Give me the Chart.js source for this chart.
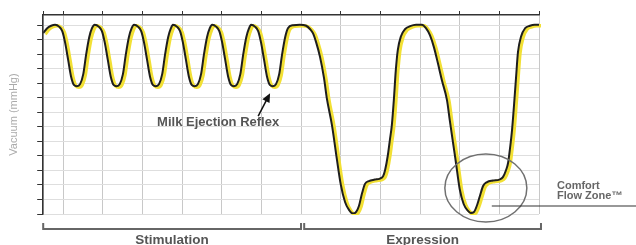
<!DOCTYPE html>
<html>
<head>
<meta charset="utf-8">
<script src="https://cdn.jsdelivr.net/npm/chart.js@4"></script>
<style>
  html, body { margin: 0; padding: 0; background: #fff; }
  canvas { display: block; }
</style>
</head>
<body>
<canvas id="myChart" width="636" height="245"></canvas>
<script>
// vacuum trace (x = time units, 10 per grid column; y = vacuum, 10 per grid row)
const timeValues = [
  -5.0, -4.0, -3.0,
  -2.0, -1.0, -0.2, 0.5, 1.3, 2.0, 2.8, 3.5, 4.3, 5.1, 5.8, 6.6, 7.3,
  8.0, 9.0, 9.8, 10.5, 11.3, 12.0, 12.8, 13.5, 14.3, 15.1, 15.8, 16.6, 17.3,
  17.9, 18.9, 19.7, 20.4, 21.2, 21.9, 22.7, 23.4, 24.2, 25.0, 25.7, 26.5, 27.2,
  27.7, 28.7, 29.5, 30.2, 31.0, 31.7, 32.5, 33.2, 34.0, 34.8, 35.5, 36.3, 37.0,
  37.6, 38.6, 39.4, 40.1, 40.9, 41.6, 42.4, 43.1, 43.9, 44.7, 45.4, 46.2, 46.9,
  47.4, 48.4, 49.2, 49.9, 50.7, 51.4, 52.2, 52.9, 53.7, 54.5, 55.2, 56.0, 56.7,
  58.0, 59.7, 61.3,
  62.3, 63.0, 63.8, 64.8, 65.8, 66.5, 67.8, 69.0, 70.0, 71.1, 72.1, 73.1, 73.9, 74.6,
  75.4, 76.1, 77.1, 78.6, 79.9, 80.7, 81.2, 81.9, 82.4, 82.9, 83.4, 83.9, 84.4, 85.2,
  86.2, 87.5, 89.0, 90.5, 91.5, 92.5, 93.5, 94.5, 95.5, 96.8, 97.5, 98.3, 99.0, 100.0,
  101.0, 102.1, 102.8, 103.6, 104.4, 105.1, 105.9, 106.9, 108.4, 110.0, 110.9, 111.7,
  112.2, 112.7, 113.2, 113.7, 114.2, 114.7, 115.5, 116.5, 117.7, 118.9, 120.0
];
const vacuumValues = [
  124.5, 127.9, 129.6,
  130.3, 129.0, 125.9, 118.3, 105.9, 94.9, 88.7, 88.0, 89.4, 96.3, 109.4, 121.7, 127.9,
  130.3, 129.0, 125.9, 118.3, 105.9, 94.9, 88.7, 88.0, 89.4, 96.3, 109.4, 121.7, 127.9,
  130.3, 129.0, 125.9, 118.3, 105.9, 94.9, 88.7, 88.0, 89.4, 96.3, 109.4, 121.7, 127.9,
  130.3, 129.0, 125.9, 118.3, 105.9, 94.9, 88.7, 88.0, 89.4, 96.3, 109.4, 121.7, 127.9,
  130.3, 129.0, 125.9, 118.3, 105.9, 94.9, 88.7, 88.0, 89.4, 96.3, 109.4, 121.7, 127.9,
  130.3, 129.0, 125.9, 118.3, 105.9, 94.9, 88.7, 88.0, 89.4, 96.3, 109.4, 121.7, 127.9,
  130.0, 130.3, 129.6,
  127.2, 124.5, 118.3, 108.0, 93.5, 79.8, 61.2, 38.5, 20.6, 8.3, 2.8, 0.3, 1.4, 5.5,
  14.4, 20.6, 22.7, 23.7, 24.4, 26.1, 30.3, 40.6, 50.9, 61.2, 78.4, 99.0, 112.8, 122.4,
  127.2, 129.3, 130.3, 130.3, 127.9, 123.1, 114.9, 103.9, 92.2, 78.4, 64.6, 49.5, 36.5, 17.2,
  6.9, 2.1, 0.7, 1.4, 6.2, 12.4, 19.3, 22.0, 23.0, 23.7, 25.4, 30.3,
  35.1, 45.4, 57.8, 74.9, 93.5, 111.4, 122.4, 127.9, 129.6, 130.3, 130.3
];
const xTicks = [-5, 0, 10, 20, 30, 40, 50, 60, 70, 80, 90, 100, 110, 120];
const yTicks = [0, 10, 20, 30, 40, 50, 60, 70, 80, 90, 100, 110, 120, 130];
const phaseLabels = ['Stimulation', 'Expression'];
const phaseStart = [-5, 60.8];
const phaseEnd = [60, 120.5];

const FONT = '"Liberation Sans", Arial, sans-serif';
const points = timeValues.map((t, i) => ({ x: t, y: vacuumValues[i] }));

// yellow trace sits a little right/below the black one
const yellowShift = {
  id: 'yellowShift',
  beforeDatasetDraw(chart, args) {
    if (args.index === 1) {
      chart.ctx.save();
      chart.ctx.translate(2, 1);
    }
  },
  afterDatasetDraw(chart, args) {
    if (args.index === 1) chart.ctx.restore();
  }
};

const annotations = {
  id: 'annotations',
  afterDraw(chart) {
    const { ctx, chartArea, scales: { x, y } } = chart;
    ctx.save();

    // comfort flow zone circle
    ctx.strokeStyle = '#707070';
    ctx.lineWidth = 1.5;
    ctx.beginPath();
    ctx.ellipse(x.getPixelForValue(106.6), y.getPixelForValue(17.9), 41, 34, 0, 0, Math.PI * 2);
    ctx.stroke();

    // leader line
    ctx.strokeStyle = '#333';
    ctx.lineWidth = 1.2;
    ctx.beginPath();
    ctx.moveTo(x.getPixelForValue(108.1), y.getPixelForValue(5.5));
    ctx.lineTo(chart.width, y.getPixelForValue(5.5));
    ctx.stroke();

    ctx.fillStyle = '#666';
    ctx.font = 'bold 11px ' + FONT;
    ctx.textAlign = 'left';
    ctx.textBaseline = 'alphabetic';
    ctx.fillText('Comfort', chartArea.right + 18, chartArea.bottom - 25);
    ctx.fillText('Flow Zone\u2122', chartArea.right + 18, chartArea.bottom - 15);

    // milk ejection reflex label + arrow
    ctx.fillStyle = '#555';
    ctx.font = 'bold 13px ' + FONT;
    ctx.textAlign = 'center';
    ctx.fillText('Milk Ejection Reflex', x.getPixelForValue(39.1), y.getPixelForValue(60.5));

    const x0 = x.getPixelForValue(49.2), y0 = y.getPixelForValue(67.4);
    const x1 = x.getPixelForValue(52.2), y1 = y.getPixelForValue(83.2);
    const ang = Math.atan2(y1 - y0, x1 - x0);
    ctx.strokeStyle = '#111';
    ctx.fillStyle = '#111';
    ctx.lineWidth = 1.5;
    ctx.beginPath();
    ctx.moveTo(x0, y0);
    ctx.lineTo(x1 - 5 * Math.cos(ang), y1 - 5 * Math.sin(ang));
    ctx.stroke();
    ctx.beginPath();
    ctx.moveTo(x1, y1);
    ctx.lineTo(x1 - 9 * Math.cos(ang) + 4 * Math.sin(ang), y1 - 9 * Math.sin(ang) - 4 * Math.cos(ang));
    ctx.lineTo(x1 - 9 * Math.cos(ang) - 4 * Math.sin(ang), y1 - 9 * Math.sin(ang) + 4 * Math.cos(ang));
    ctx.closePath();
    ctx.fill();

    // phase brackets under the plot
    const by = chartArea.bottom + 15;
    ctx.strokeStyle = '#666';
    ctx.lineWidth = 2;
    ctx.font = 'bold 13.5px ' + FONT;
    ctx.fillStyle = '#555';
    phaseLabels.forEach((label, i) => {
      const a = x.getPixelForValue(phaseStart[i]);
      const b = x.getPixelForValue(phaseEnd[i]);
      ctx.beginPath();
      ctx.moveTo(a, by - 6);
      ctx.lineTo(a, by);
      ctx.lineTo(b, by);
      ctx.lineTo(b, by - 6);
      ctx.stroke();
      ctx.fillText(label, (a + b) / 2, by + 15);
    });

    ctx.restore();
  }
};

new Chart(document.getElementById('myChart'), {
  type: 'line',
  data: {
    datasets: [
      { data: points, borderColor: '#1e1e1e', borderWidth: 2, cubicInterpolationMode: 'monotone' },
      { data: points, borderColor: '#f2e034', borderWidth: 3.5, cubicInterpolationMode: 'monotone' }
    ]
  },
  options: {
    responsive: false,
    animation: false,
    layout: { padding: { top: 11, right: 97, bottom: 31, left: 0 } },
    elements: { point: { radius: 0 } },
    plugins: { legend: { display: false }, tooltip: { enabled: false } },
    scales: {
      x: {
        type: 'linear',
        position: 'top',
        min: -5,
        max: 120,
        afterBuildTicks: axis => { axis.ticks = xTicks.map(v => ({ value: v })); },
        ticks: { display: false },
        grid: { color: '#c8c8c8', tickColor: '#333', tickLength: 4 },
        border: { color: '#333', width: 1.5 }
      },
      y: {
        min: 0,
        max: 137,
        afterBuildTicks: axis => { axis.ticks = yTicks.map(v => ({ value: v })); },
        ticks: { display: false },
        title: {
          display: true,
          text: 'Vacuum (mmHg)',
          color: '#aaa',
          font: { family: FONT, size: 11 },
          padding: { top: 7, bottom: 17 }
        },
        grid: { color: '#dedede', tickColor: '#333', tickLength: 6 },
        border: { color: '#333', width: 1.5 }
      }
    }
  },
  plugins: [yellowShift, annotations]
});
</script>
</body>
</html>
